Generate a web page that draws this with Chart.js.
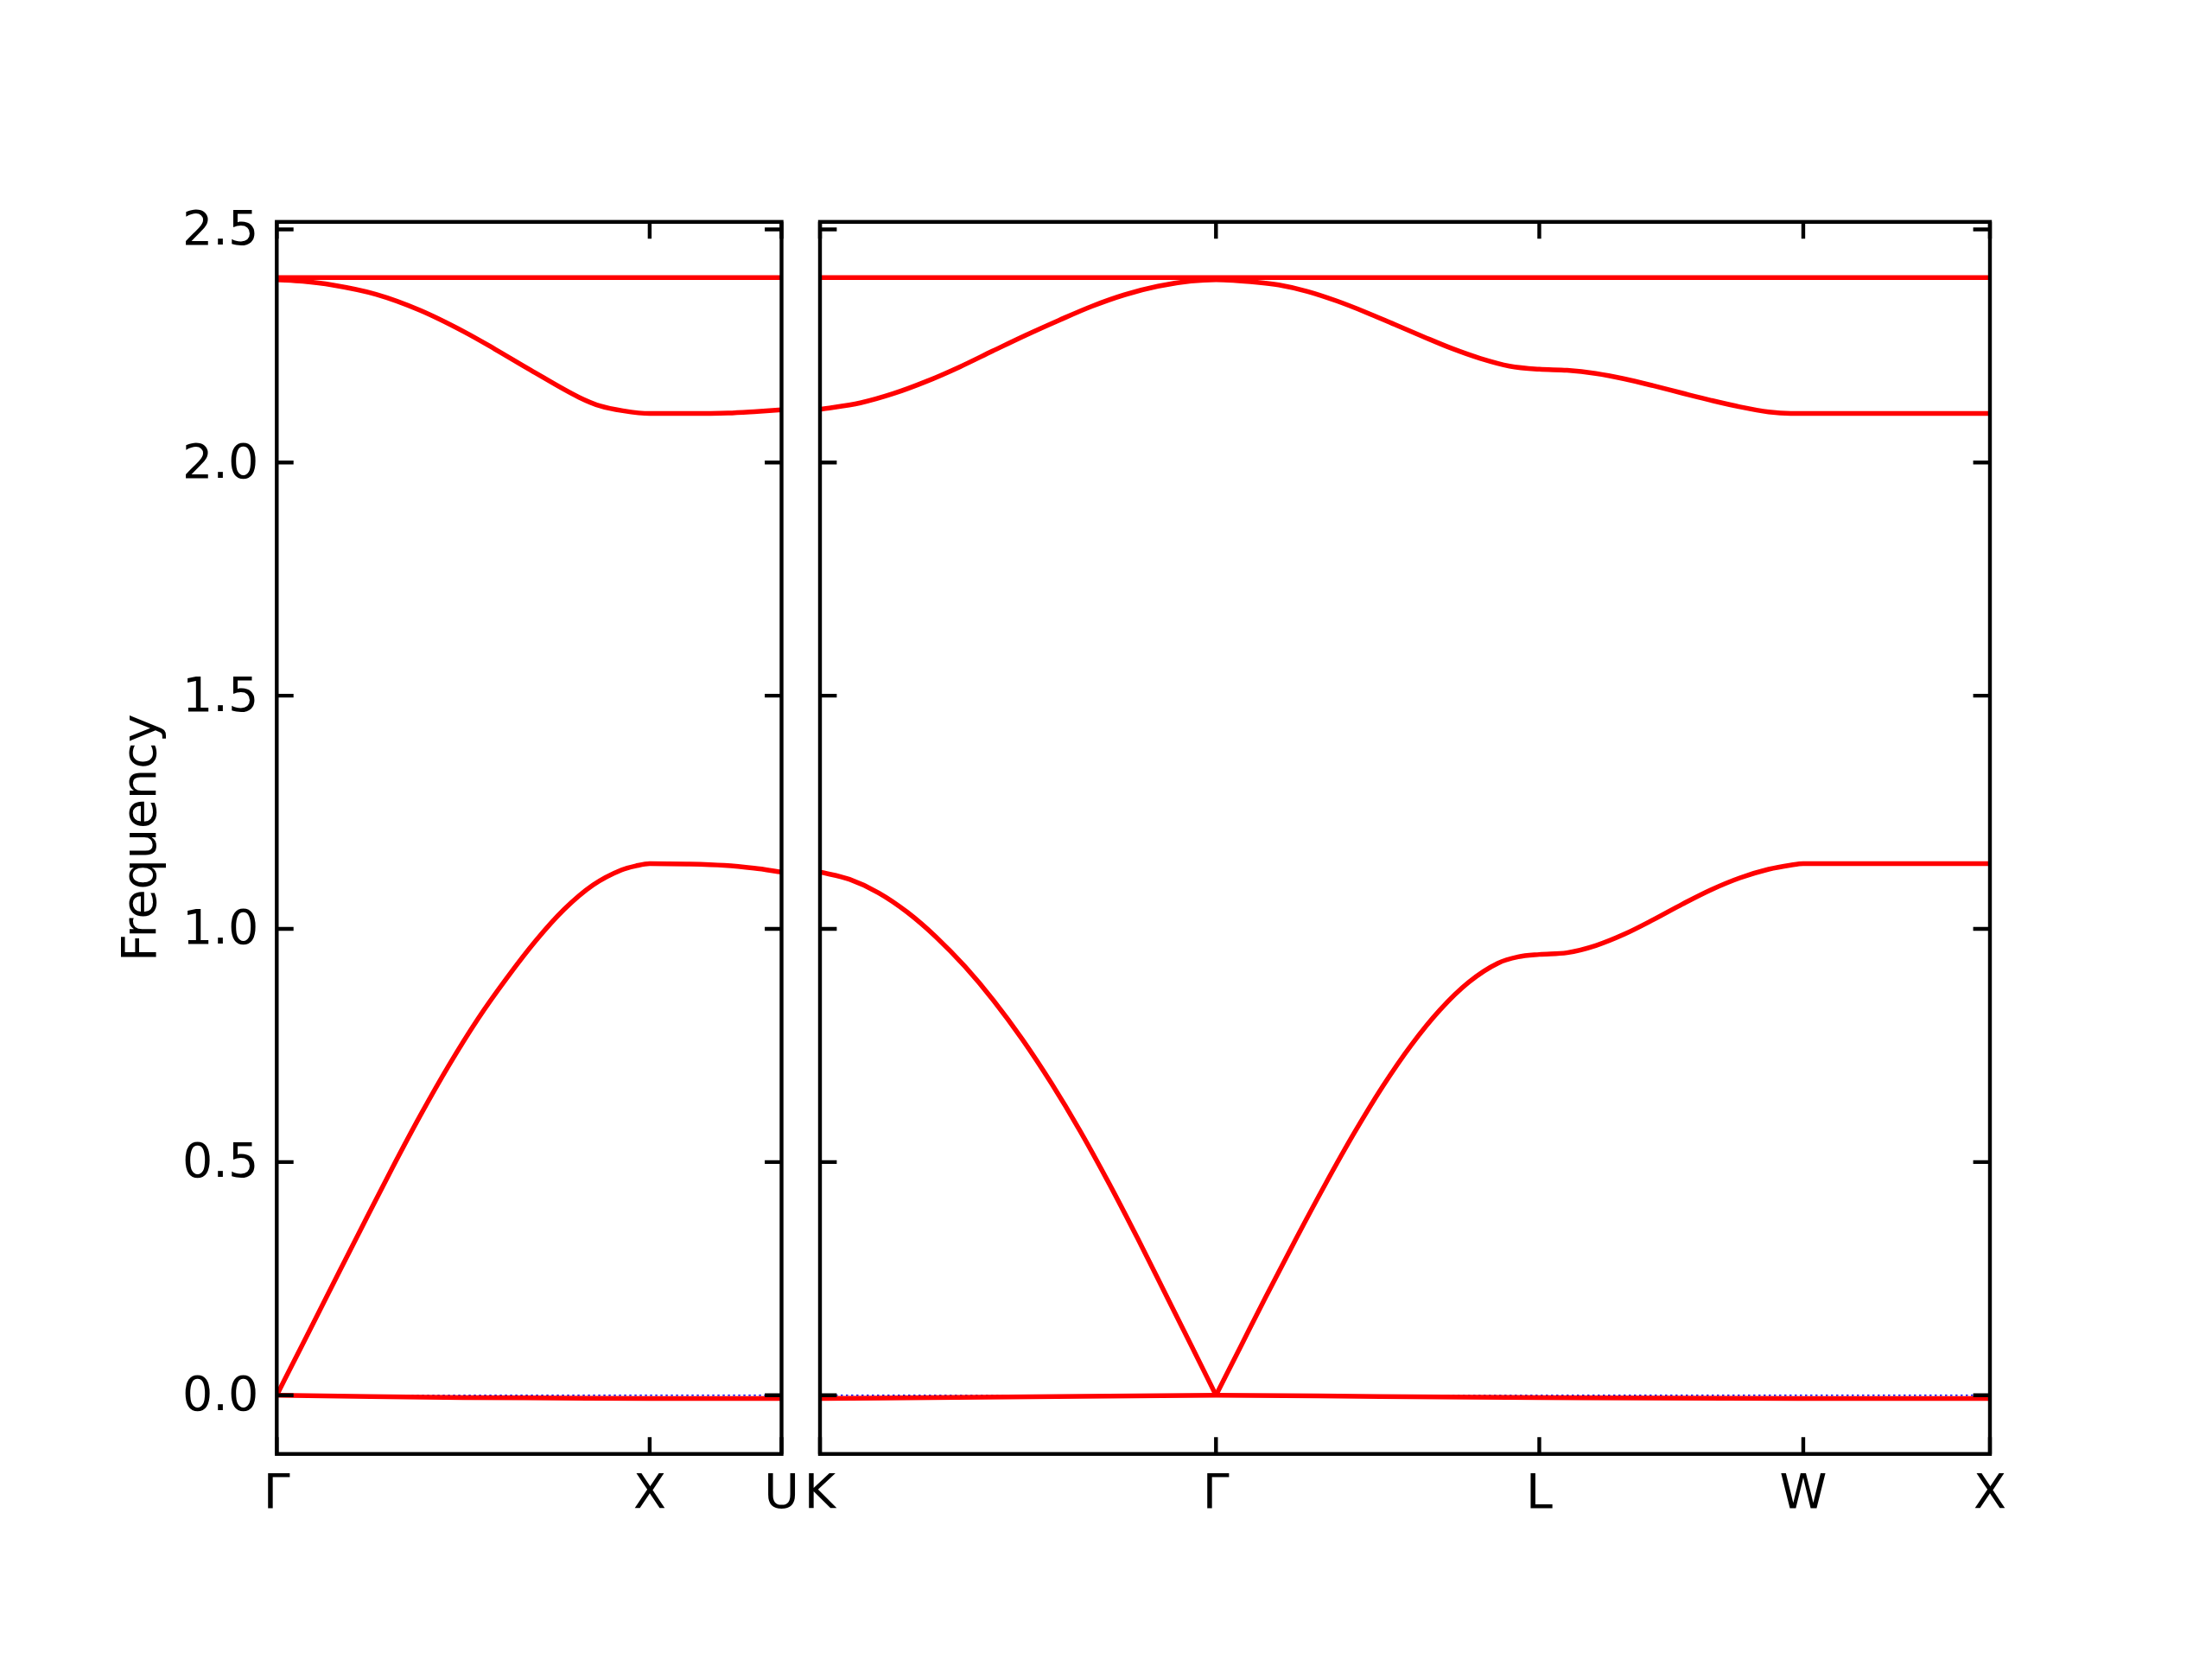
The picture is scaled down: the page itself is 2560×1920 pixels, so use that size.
<!DOCTYPE html>
<html>
<head>
<meta charset="utf-8">
<script src="https://cdn.jsdelivr.net/npm/chart.js@4.4.1/dist/chart.umd.min.js"></script>
<style>
  html, body { margin: 0; padding: 0; background: #ffffff; }
  #wrap { position: relative; width: 2560px; height: 1920px; background: #ffffff; overflow: hidden; }
  canvas { position: absolute; top: 0; }
</style>
</head>
<body>
<div id="wrap">
  <canvas id="c1" width="940" height="1920" style="left:0px"></canvas>
  <canvas id="c2" width="1440" height="1920" style="left:900px"></canvas>
</div>
<script>
// ---------- tick labels / positions ----------
const panel1TickPos = [0, 1.0, 1.3536];
const panel1TickLabels = ['Γ', 'X', 'U'];
const panel2TickPos = [0, 1.0607, 1.9267, 2.6338, 3.1338];
const panel2TickLabels = ['K', 'Γ', 'L', 'W', 'X'];
const yTickValues = [0.0, 0.5, 1.0, 1.5, 2.0, 2.5];
const yLabel = 'Frequency';

// ---------- panel 1 (Γ - X - U) ----------
const p1Band0X = [0, 0.25, 0.5, 0.75, 1.0, 1.3536];
const p1Band0Y = [0.0, -0.003, -0.005, -0.006, -0.007, -0.007];

const p1AcousticX = [0, 0.067, 0.134, 0.231, 0.308, 0.385, 0.462, 0.539, 0.617, 0.694, 0.771, 0.848, 0.925, 0.963, 1.0, 1.1, 1.2, 1.28, 1.3536];
const p1AcousticY = [0, 0.1057, 0.2115, 0.3645, 0.4846, 0.600, 0.708, 0.8065, 0.8946, 0.974, 1.042, 1.094, 1.1265, 1.135, 1.140, 1.139, 1.136, 1.130, 1.122];

const p1OpticalX = [0, 0.07, 0.148, 0.266, 0.385, 0.503, 0.585, 0.680, 0.810, 0.868, 0.928, 1.0, 1.1, 1.21, 1.28, 1.3536];
const p1OpticalY = [2.392, 2.3885, 2.3807, 2.3606, 2.3261, 2.2801, 2.2432, 2.1986, 2.1401, 2.121, 2.111, 2.105, 2.105, 2.106, 2.109, 2.113];

const p1TopX = [0, 1.3536];
const p1TopY = [2.3965, 2.3965];

// ---------- panel 2 (K - Γ - L - W - X) ----------
const p2Band0X = [0, 0.5, 1.0607, 1.5, 1.9267, 2.6338, 3.1338];
const p2Band0Y = [-0.007, -0.004, 0.0, -0.003, -0.005, -0.007, -0.007];

const p2AcousticKGX = [0, 0.079, 0.157, 0.234, 0.311, 0.388, 0.465, 0.542, 0.620, 0.697, 0.774, 0.851, 0.928, 0.994, 1.0607];
const p2AcousticKGY = [1.122, 1.1062, 1.0773, 1.0357, 0.9826, 0.9195, 0.8463, 0.7631, 0.6687, 0.5663, 0.4546, 0.336, 0.2128, 0.1072, 0.0];

const p2AcousticGXX = [1.0607, 1.127, 1.194, 1.275, 1.353, 1.430, 1.507, 1.584, 1.661, 1.738, 1.816, 1.870, 1.9267, 2.001, 2.078, 2.155, 2.232, 2.310, 2.387, 2.464, 2.541, 2.600, 2.6338, 2.8, 3.1338];
const p2AcousticGXY = [0.0, 0.1048, 0.2107, 0.3354, 0.4516, 0.5609, 0.6618, 0.7511, 0.8266, 0.8859, 0.9265, 0.940, 0.9451, 0.9488, 0.9642, 0.9888, 1.0196, 1.0531, 1.0839, 1.1093, 1.1278, 1.1367, 1.140, 1.140, 1.140];

const p2OpticalX = [0, 0.108, 0.197, 0.285, 0.374, 0.462, 0.551, 0.640, 0.728, 0.817, 0.905, 0.994, 1.0607, 1.171, 1.229, 1.306, 1.384, 1.461, 1.538, 1.615, 1.692, 1.769, 1.847, 1.9267, 2.001, 2.078, 2.155, 2.232, 2.310, 2.387, 2.464, 2.541, 2.600, 2.6338, 3.1338];
const p2OpticalY = [2.114, 2.128, 2.148, 2.174, 2.205, 2.239, 2.273, 2.305, 2.335, 2.360, 2.378, 2.389, 2.392, 2.3865, 2.3807, 2.3668, 2.3465, 2.3226, 2.2964, 2.2702, 2.2448, 2.2232, 2.2068, 2.200, 2.1978, 2.1909, 2.1793, 2.1647, 2.1487, 2.1333, 2.1194, 2.1086, 2.1051, 2.105, 2.105];

const p2TopX = [0, 3.1338];
const p2TopY = [2.3965, 2.3965];

// zero reference (blue dotted)
const zeroRefY = [0, 0];

// ---------- helpers ----------
const zip = (xs, ys) => xs.map((x, i) => ({ x: x, y: ys[i] }));
const FONT = { family: 'DejaVu Sans', size: 55.5 };
const Y_MIN = -0.126, Y_MAX = 2.516;

function bandDataset(xs, ys) {
  return {
    data: zip(xs, ys),
    borderColor: '#ff0000',
    borderWidth: 5.5,
    pointRadius: 0,
    fill: false,
    cubicInterpolationMode: 'monotone',
    borderCapStyle: 'butt',
    borderJoinStyle: 'round'
  };
}
function zeroDataset(xmax) {
  return {
    data: zip([0, xmax], zeroRefY),
    borderColor: '#0000ff',
    borderWidth: 1.6,
    borderDash: [2.5, 3.5],
    pointRadius: 0,
    fill: false,
    tension: 0
  };
}

const frame = {
  id: 'frame',
  afterDraw(chart, args, opts) {
    const { ctx, chartArea: { left, right, top, bottom }, scales: { x, y } } = chart;
    const L = 19.4;
    ctx.save();
    ctx.strokeStyle = '#000000';
    ctx.lineWidth = 4.4;
    ctx.lineCap = 'butt';
    ctx.beginPath();
    opts.xTicks.forEach(v => {
      const px = x.getPixelForValue(v);
      ctx.moveTo(px, bottom); ctx.lineTo(px, bottom - L);
      ctx.moveTo(px, top); ctx.lineTo(px, top + L);
    });
    yTickValues.forEach(v => {
      const py = y.getPixelForValue(v);
      ctx.moveTo(left, py); ctx.lineTo(left + L, py);
      ctx.moveTo(right, py); ctx.lineTo(right - L, py);
    });
    ctx.stroke();
    ctx.lineJoin = 'miter';
    ctx.strokeRect(left, top, right - left, bottom - top);
    ctx.restore();
  }
};

function xScale(max, pos, labels) {
  return {
    type: 'linear',
    position: 'bottom',
    min: 0,
    max: max,
    grid: { display: false, drawTicks: false },
    border: { display: false },
    afterBuildTicks: s => { s.ticks = pos.map(v => ({ value: v })); },
    afterFit: s => { s.height = 1920 - 1682.7; },
    ticks: {
      autoSkip: false,
      maxRotation: 0,
      minRotation: 0,
      padding: 14.5,
      color: '#000000',
      font: FONT,
      callback: (v, i) => labels[i]
    }
  };
}

Chart.defaults.font.family = 'DejaVu Sans';

new Chart(document.getElementById('c1'), {
  type: 'line',
  data: {
    datasets: [
      bandDataset(p1TopX, p1TopY),
      bandDataset(p1OpticalX, p1OpticalY),
      bandDataset(p1AcousticX, p1AcousticY),
      bandDataset(p1Band0X, p1Band0Y),
      zeroDataset(p1TopX[1])
    ]
  },
  options: {
    responsive: false,
    animation: false,
    devicePixelRatio: 1,
    layout: { padding: { left: 0, right: 940 - 904.5, top: 256.8, bottom: 0 } },
    plugins: { legend: { display: false }, tooltip: { enabled: false }, frame: { xTicks: panel1TickPos } },
    scales: {
      x: xScale(1.3536, panel1TickPos, panel1TickLabels),
      y: {
        type: 'linear',
        position: 'left',
        min: Y_MIN,
        max: Y_MAX,
        grid: { display: false, drawTicks: false },
        border: { display: false },
        afterBuildTicks: s => { s.ticks = yTickValues.map(v => ({ value: v })); },
        afterFit: s => { s.width = 320.3; },
        ticks: {
          padding: 21,
          labelOffset: 3,
          color: '#000000',
          font: FONT,
          callback: v => Number(v).toFixed(1)
        },
        title: {
          display: true,
          text: yLabel,
          color: '#000000',
          font: FONT,
          padding: { top: 132, bottom: 0 }
        }
      }
    }
  },
  plugins: [frame]
});

new Chart(document.getElementById('c2'), {
  type: 'line',
  data: {
    datasets: [
      bandDataset(p2TopX, p2TopY),
      bandDataset(p2OpticalX, p2OpticalY),
      bandDataset(p2AcousticKGX, p2AcousticKGY),
      bandDataset(p2AcousticGXX, p2AcousticGXY),
      bandDataset(p2Band0X, p2Band0Y),
      zeroDataset(p2TopX[1])
    ]
  },
  options: {
    responsive: false,
    animation: false,
    devicePixelRatio: 1,
    layout: { padding: { left: 949 - 900, right: 900 + 1440 - 2303, top: 256.8, bottom: 0 } },
    plugins: { legend: { display: false }, tooltip: { enabled: false }, frame: { xTicks: panel2TickPos } },
    scales: {
      x: xScale(3.1338, panel2TickPos, panel2TickLabels),
      y: {
        type: 'linear',
        position: 'left',
        min: Y_MIN,
        max: Y_MAX,
        display: true,
        grid: { display: false, drawTicks: false },
        border: { display: false },
        afterBuildTicks: s => { s.ticks = yTickValues.map(v => ({ value: v })); },
        afterFit: s => { s.width = 0; },
        ticks: { display: false },
        title: { display: false }
      }
    }
  },
  plugins: [frame]
});
</script>
</body>
</html>
